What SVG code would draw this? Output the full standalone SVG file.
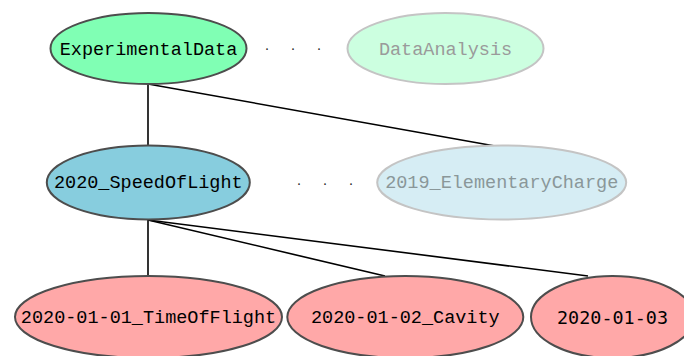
<svg xmlns="http://www.w3.org/2000/svg" width="684" height="356" viewBox="0 0 684 356">
  <style>
    .node ellipse { stroke: #4d4d4d; stroke-width: 2; }
    .node text { font-family: "Liberation Mono", "DejaVu Sans Mono", monospace; font-size: 18.5px; text-anchor: middle; fill: #000; }
    .faded ellipse { stroke: #c4c4c4; }
    .faded text { fill: #9a9a9a; }
    .edges line { stroke: #000; stroke-width: 1.6; }
    .dots { font-family: "Liberation Serif", serif; font-size: 14px; fill: #222; text-anchor: middle; }
  </style>
  <rect width="684" height="356" fill="#fff"/>

  <g id="connectors" class="edges">
    <line x1="148" y1="84" x2="148" y2="146"/>
    <line x1="148" y1="84" x2="495" y2="146"/>
    <line x1="148" y1="220" x2="148" y2="276"/>
    <line x1="148" y1="220" x2="385" y2="276"/>
    <line x1="148" y1="220" x2="588" y2="276"/>
  </g>

  <g id="ExperimentalData" class="node">
    <ellipse cx="148.5" cy="48.5" rx="98" ry="35.5" fill="#80ffb4"/>
    <text x="148.5" y="54.5">ExperimentalData</text>
  </g>
  <text class="dots" x="267 293 319" y="50">...</text>
  <g id="DataAnalysis" class="node faded">
    <ellipse cx="445.5" cy="48.5" rx="98" ry="35.5" fill="#ccffe0" stroke="#b8b8b8"/>
    <text x="445.5" y="54.5">DataAnalysis</text>
  </g>

  <g id="SpeedOfLight" class="node">
    <ellipse cx="148.3" cy="182.5" rx="101.5" ry="37" fill="#87cdde"/>
    <text x="148.3" y="188">2020_SpeedOfLight</text>
  </g>
  <text class="dots" x="299 325 351" y="185">...</text>
  <g id="ElementaryCharge" class="node faded">
    <ellipse cx="501.7" cy="182.5" rx="124.5" ry="37" fill="#d6edf4" stroke="#cccccc"/>
    <text x="501.7" y="188" style="fill:#8a9799">2019_ElementaryCharge</text>
  </g>

  <g id="TimeOfFlight" class="node">
    <ellipse cx="148.5" cy="317" rx="133.5" ry="41" fill="#ffa8a8"/>
    <text x="148.5" y="322.5">2020-01-01_TimeOfFlight</text>
  </g>
  <g id="Cavity" class="node">
    <ellipse cx="405.3" cy="317" rx="118" ry="41" fill="#ffa8a8"/>
    <text x="405.3" y="322.5">2020-01-02_Cavity</text>
  </g>
  <g id="Run20200103" class="node">
    <ellipse cx="612.5" cy="317" rx="81.5" ry="41" fill="#ffa8a8"/>
    <text x="612.5" y="323.5" style="font-family:'DejaVu Sans Mono', monospace; font-size:17px" textLength="111" lengthAdjust="spacingAndGlyphs">2020-01-03</text>
  </g>
</svg>
